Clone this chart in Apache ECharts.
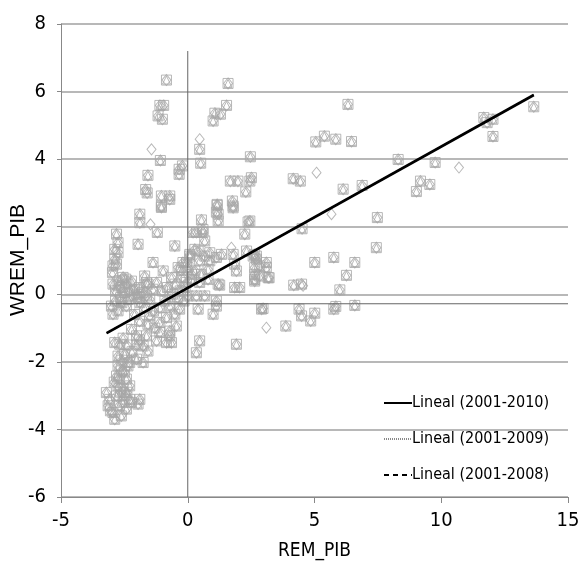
<!DOCTYPE html>
<html>
<head>
<meta charset="utf-8">
<script src="https://cdn.jsdelivr.net/npm/echarts@6/dist/echarts.min.js"></script>
<style>html,body{margin:0;padding:0;background:#fff}#c{width:580px;height:576px}</style>
</head>
<body>
<div id="c"></div>
<script>
// Tick settings
var xTicks = {min: -5, max: 15, interval: 5};
var yTicks = {min: -6, max: 8, interval: 2};
var xAxisTitle = 'REM_PIB';
var yAxisTitle = 'WREM_PIB';

// Points shared by all periods (2001-2008 / 2001-2009 / 2001-2010)
var commonPoints = [
 [-0.84,6.34],[-1.1,5.59],[-0.95,5.59],[-1.17,5.28],[-1.0,5.18],[-1.08,3.96],[-0.34,3.70],[-0.21,3.80],[-0.34,3.55],[-1.57,3.52],[-1.66,3.1],[-1.6,3.0],[-1.04,2.91],[-0.71,2.91],[-1.04,2.61],
 [1.59,6.24],[1.53,5.59],[1.07,5.36],[1.29,5.33],[1.0,5.13],[0.47,4.29],[0.51,3.88],[2.47,4.07],[5.05,4.51],[5.39,4.68],[1.68,3.35],[1.98,3.35],[2.51,3.45],[2.45,3.35],[2.29,3.03],[4.16,3.42],[4.44,3.35],[1.16,2.66],[1.76,2.76],[1.79,2.61],
 [6.32,5.62],[5.84,4.59],[6.46,4.52],[13.65,5.55],[11.68,5.23],[11.81,5.08],[12.04,5.18],[12.04,4.67],[8.3,3.99],[9.76,3.9],[6.13,3.11],[6.88,3.22],[9.18,3.35],[9.55,3.25],[9.02,3.04],
 [7.48,2.27],[4.51,1.94],[2.45,2.17],[7.44,1.38],[6.59,0.94],[6.26,0.56],[6.0,0.13],[5.01,0.94],[5.76,1.09],[4.18,0.27],[2.97,-0.42],[3.87,-0.94],[4.39,-0.44],[4.49,-0.64],[4.85,-0.79],[5.01,-0.56],[5.76,-0.44],[5.84,-0.36],[6.59,-0.33],
 [2.58,1.13],[2.71,1.04],[3.1,0.94],[2.84,0.84],[2.64,0.59],[2.64,0.39],[3.21,0.49],
 [1.16,2.63],[1.2,2.37],[1.13,2.43],[1.79,2.56],[0.54,2.2],[1.2,2.17],[2.38,2.14],[0.21,1.83],[0.6,1.83],[0.67,1.58],[2.25,1.78],[0.08,1.18],[0.41,1.28],[0.67,1.13],[0.87,1.23],[1.33,1.18],[0.47,0.99],[0.87,0.99],[1.13,1.09],[1.79,1.18],[2.32,1.28],[2.64,1.18],[2.71,1.13],[1.85,0.89],[1.92,0.69],[2.64,0.79],[2.64,0.44],[2.84,0.54],[3.17,0.49],[3.1,0.79],[0.01,0.79],[0.28,0.69],[0.54,0.59],[0.8,0.74],[0.15,0.44],[0.47,0.35],[0.8,0.44],[1.2,0.3],[1.85,0.2],[2.05,0.2],[1.26,0.27],[4.49,0.3],[0.01,-0.05],[0.34,-0.05],[0.67,-0.05],[1.13,-0.2],[0.41,-0.44],[1.0,-0.59],[1.13,-0.35],[2.91,-0.44],[0.47,-1.38],[0.34,-1.73],[1.92,-1.48],[0.34,1.83],[0.6,1.92],[-0.05,0.94],[0.08,1.13],[0.28,1.33],[0.15,0.59],
 [-1.89,2.37],[-1.89,2.12],[-1.04,2.57],[-0.71,2.81],[-1.2,1.83],[-2.81,1.78],[-2.75,1.53],[-2.88,1.33],[-2.75,1.23],[-2.88,1.04],[-2.95,0.84],[-2.97,0.64],[-2.81,0.89],[-1.96,1.48],[-0.51,1.43],[-1.37,0.94],[-0.97,0.69],[-0.64,0.49],[-0.38,0.79],[-0.19,0.94],
 [-2.22,0.39],[-1.89,0.2],[-1.63,0.35],[-1.7,0.54],[-1.63,-0.05],[-1.37,0.15],[-1.57,0.3],[-1.23,0.35],
 [-2.7,0.4],[-2.6,0.2],[-2.5,0.05],[-2.4,0.3],[-2.3,0.1],[-2.2,-0.05],[-2.1,0.15],[-2.0,0.0],[-2.65,-0.1],[-2.85,0.1],[-2.95,0.3],[-2.55,0.5],[-2.35,-0.15],[-1.95,-0.1],[-1.8,0.05],[-2.45,0.45],[-2.75,0.25],[-2.6,-0.25],[-2.85,-0.2],
 [-3.01,-0.35],[-2.95,-0.59],[-2.75,-0.49],[-2.42,-0.35],[-1.89,-0.25],[-1.5,-0.15],
 [-0.5,0.3],[-0.3,0.1],[-0.2,0.5],[-0.1,0.2],[-0.4,-0.1],[-0.15,-0.2],[-0.6,0.0],[-0.8,0.2],[-1.0,0.1],[-0.9,-0.2],[-0.25,0.7],[-0.05,0.35],[-0.7,-0.35],[-1.1,-0.4],
 [-2.22,-1.04],[-1.57,-0.89],[-1.5,-0.64],[-1.1,-0.84],[-0.84,-0.69],[-0.51,-0.59],[-0.32,-0.44],
 [-2.88,-1.43],[-2.68,-1.48],[-2.02,-1.23],[-1.63,-1.23],[-1.23,-1.38],[-0.84,-1.43],[-1.1,-1.13],[-0.71,-1.09],[-0.45,-0.94],[-0.71,-1.23],[-0.64,-1.43],
 [-2.75,-1.83],[-2.49,-1.78],[-2.29,-2.02],[-2.02,-1.92],[-1.76,-2.02],[-1.57,-1.68],[-1.76,-1.53],[-2.36,-2.12],
 [-2.75,-2.12],[-2.81,-2.42],[-2.62,-2.27],[-2.42,-2.51],[-2.75,-2.71],[-2.55,-2.81],[-2.29,-2.71],[-2.81,-3.01],[-2.49,-3.01],
 [-3.21,-2.91],[-3.08,-3.11],[-3.14,-3.3],[-2.95,-3.5],[-2.88,-3.7],[-2.62,-3.6],[-2.42,-3.4],[-2.22,-3.2],[-1.96,-3.25],[-2.29,-3.11],[-2.55,-3.2],[-1.89,-3.11],
 [-2.7,-2.5],[-2.65,-2.9],[-2.9,-2.6],[-2.5,-2.3],[-2.7,-3.3],[-3.05,-3.45],[-2.4,-2.9],[-2.6,-1.95],[-2.2,-1.7],[-2.0,-1.5],[-1.9,-1.35],[-2.4,-1.5],[-2.55,-1.3],[-1.3,-1.0],[-1.9,-0.8],[-2.1,-0.6],[-1.7,-0.4],[-1.35,-0.5]
];
// Points present only in the 2001-2010 period
var extraPoints2010 = [
 [-1.43,4.29],[0.47,4.59],[5.08,3.6],[10.7,3.75],[5.67,2.37],[3.1,-0.99],[4.55,0.25],[1.72,1.38],[-1.47,2.07]
];
// Linear trend endpoints
var trend2010 = [[-3.2,-1.15],[13.65,5.9]];
var trend2009 = [[-3.2,-1.15],[13.65,5.9]];
var trend2008 = [[-3.2,-1.15],[13.65,5.9]];
// Reference lines
var vRefLine = [[0,-6],[0,7.2]];
var hRefLine = [[-5,-0.28],[15,-0.28]];
var legendNames = ['Lineal (2001-2010)','Lineal (2001-2009)','Lineal (2001-2008)'];

var narrow = "'DejaVu Sans Condensed','Liberation Sans Narrow',sans-serif";
var markStyle = {color:'rgba(255,255,255,0)', borderColor:'#a6a6a6', borderWidth:1};

var chart = echarts.init(document.getElementById('c'), null, {renderer:'canvas'});
chart.setOption({
  animation:false,
  backgroundColor:'#fff',
  grid:{left:61, right:12, top:24, bottom:79, containLabel:false, outerBoundsMode:'none'},
  graphic:[{
    type:'text', x:18, y:260, rotation:Math.PI/2, silent:true,
    style:{text:yAxisTitle, fill:'#000', fontSize:21, fontFamily:"'Liberation Sans',Arial,sans-serif",
           textAlign:'center', textVerticalAlign:'middle'}
  }],
  legend:{
    data:legendNames, orient:'vertical', left:378, top:390,
    itemWidth:28, itemHeight:16, itemGap:20,
    itemStyle:{opacity:0},
    textStyle:{fontFamily:narrow, fontSize:16, color:'#000', lineHeight:16, padding:[0,0,0,-5]}
  },
  xAxis:{
    type:'value', min:xTicks.min, max:xTicks.max, interval:xTicks.interval,
    name:xAxisTitle, nameLocation:'middle', nameGap:45,
    nameTextStyle:{fontFamily:narrow, fontSize:19, color:'#000'},
    axisLine:{onZero:false, lineStyle:{color:'#888', width:1}},
    axisTick:{show:true, length:6, lineStyle:{color:'#888'}},
    axisLabel:{fontFamily:narrow, fontSize:20, color:'#000', margin:14},
    splitLine:{show:false}
  },
  yAxis:{
    type:'value', min:yTicks.min, max:yTicks.max, interval:yTicks.interval,
    axisLine:{show:true, onZero:false, lineStyle:{color:'#888', width:1}},
    axisTick:{show:true, length:4, lineStyle:{color:'#888'}},
    axisLabel:{fontFamily:narrow, fontSize:20, color:'#000', margin:15},
    splitLine:{show:true, lineStyle:{color:'#a0a0a0', width:1.5}}
  },
  series:[
    {type:'scatter', name:'pts2010', data:commonPoints.concat(extraPoints2010), symbol:'diamond', symbolSize:[9,11], itemStyle:markStyle, silent:true, z:2},
    {type:'scatter', name:'pts2009', data:commonPoints, symbol:'rect', symbolSize:10, itemStyle:markStyle, silent:true, z:2},
    {type:'scatter', name:'pts2008', data:commonPoints, symbol:'triangle', symbolSize:8, itemStyle:markStyle, silent:true, z:2},
    {type:'line', name:'vref', data:vRefLine, symbol:'none', lineStyle:{color:'#666', width:1}, silent:true, z:3},
    {type:'line', name:'href', data:hRefLine, symbol:'none', lineStyle:{color:'#666', width:1.2}, silent:true, z:3},
    {type:'line', name:legendNames[2], data:trend2008, symbol:'none', color:'#000', lineStyle:{color:'#000', width:1.5, type:[5,4]}, z:4},
    {type:'line', name:legendNames[1], data:trend2009, symbol:'none', color:'#888', lineStyle:{color:'#888', width:1, type:[1,1]}, z:4},
    {type:'line', name:legendNames[0], data:trend2010, symbol:'none', color:'#000', lineStyle:{color:'#000', width:2.8}, z:5}
  ]
});
</script>
</body>
</html>
